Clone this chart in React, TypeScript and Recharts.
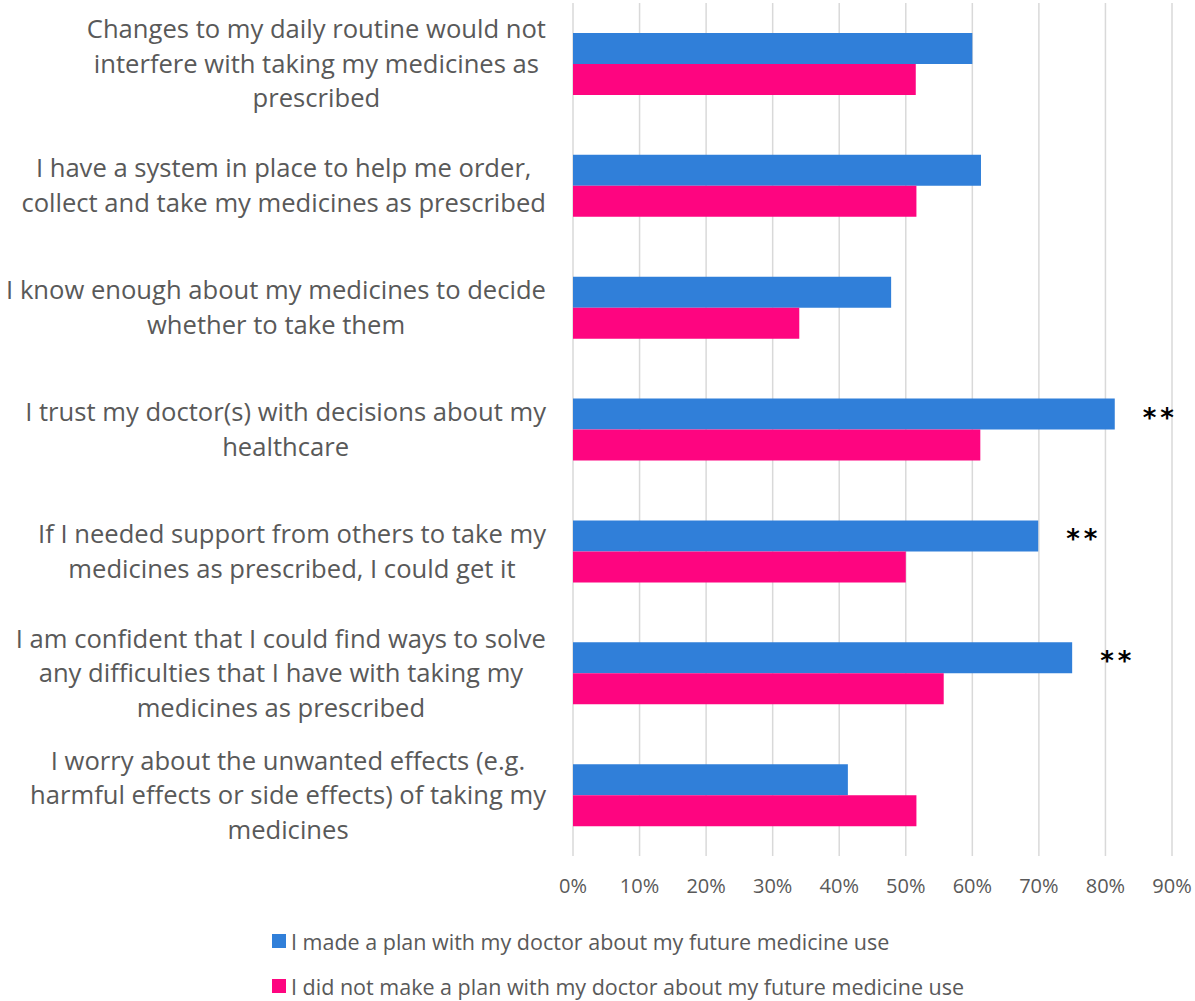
import React from "react";
import { BarChart, Bar, XAxis, YAxis, CartesianGrid, LabelList } from "recharts";

const categoryLines: string[][] = [
  ["Changes to my daily routine would not", "interfere with taking my medicines as", "prescribed"],
  ["I have a system in place to help me order,", "collect and take my medicines as prescribed"],
  ["I know enough about my medicines to decide", "whether to take them"],
  ["I trust my doctor(s) with decisions about my", "healthcare"],
  ["If I needed support from others to take my", "medicines as prescribed, I could get it"],
  ["I am confident that I could find ways to solve", "any difficulties that I have with taking my", "medicines as prescribed"],
  ["I worry about the unwanted effects (e.g.", "harmful effects or side effects) of taking my", "medicines"],
];
const categories: string[] = categoryLines.map((l) => l.join(" "));
const madePlan: number[] = [0.6, 0.613, 0.478, 0.814, 0.699, 0.75, 0.413];
const noPlan: number[] = [0.515, 0.516, 0.34, 0.612, 0.5, 0.557, 0.516];
const significance: string[] = ["", "", "", "**", "**", "**", ""];
const xTicks: number[] = [0, 0.1, 0.2, 0.3, 0.4, 0.5, 0.6, 0.7, 0.8, 0.9];
const seriesNames: string[] = [
  "I made a plan with my doctor about my future medicine use",
  "I did not make a plan with my doctor about my future medicine use",
];
const seriesColors: string[] = ["#307fd9", "#fe0580"];

const data = categories.map((name, i) => ({
  name,
  idx: i,
  made: madePlan[i],
  notMade: noPlan[i],
  sig: significance[i],
}));

const FONT = "'Open Sans', 'Noto Sans', sans-serif";
const TEXT_COLOR = "#595959";
const LABEL_SIZE = 25.6;
const LINE_H = 34.5;

let ctx: CanvasRenderingContext2D | null = null;
function measure(text: string): number {
  if (!ctx) {
    const c = document.createElement("canvas");
    ctx = c.getContext("2d");
  }
  if (!ctx) return text.length * LABEL_SIZE * 0.5;
  ctx.font = `${LABEL_SIZE}px 'Open Sans'`;
  return ctx.measureText(text).width;
}

const CategoryTick = (props: any) => {
  const { x, y, payload } = props;
  const lines = categoryLines[payload.index] || [String(payload.value)];
  const maxW = Math.max(...lines.map(measure));
  const cx = x - 27 - maxW / 2;
  const startY = y - ((lines.length - 1) * LINE_H) / 2;
  return (
    <text
      x={cx}
      y={startY}
      textAnchor="middle"
      fill={TEXT_COLOR}
      fontFamily={FONT}
      fontSize={LABEL_SIZE}
    >
      {lines.map((l, i) => (
        <tspan key={i} x={cx} y={startY + i * LINE_H} dy="0.35em">
          {l}
        </tspan>
      ))}
    </text>
  );
};

const renderSig = (props: any) => {
  const { x, y, width, height, value } = props;
  if (!value) return null;
  return (
    <text
      x={x + width + 28}
      y={y + height / 2 + 5}
      textAnchor="start"
      dominantBaseline="middle"
      fill="#000"
      fontFamily="'DejaVu Sans', sans-serif"
      fontWeight="bold"
      fontSize={26}
      letterSpacing={4}
    >
      {value}
    </text>
  );
};

export default function App() {
  return (
    <div style={{ position: "absolute", left: 0, top: 0, width: 1195, height: 1000, background: "#fff" }}>
      <BarChart
        layout="vertical"
        width={1195}
        height={1000}
        data={data}
        margin={{ top: 3, right: 23, bottom: 104, left: 0 }}
        barGap={0}
        barSize={31}
      >
        <CartesianGrid horizontal={false} stroke="#d9d9d9" strokeWidth={1.5} />
        <XAxis
          type="number"
          domain={[0, 0.9]}
          ticks={xTicks}
          tickFormatter={(v: number) => `${Math.round(v * 100)}%`}
          axisLine={false}
          tickLine={false}
          tickMargin={17}
          height={40}
          interval={0}
          tick={{ fill: TEXT_COLOR, fontSize: 20, fontFamily: FONT }}
        />
        <YAxis
          type="category"
          dataKey="name"
          width={573}
          axisLine={false}
          tickLine={false}
          tickSize={0}
          tickMargin={0}
          interval={0}
          tick={<CategoryTick />}
        />
        <Bar dataKey="made" fill={seriesColors[0]} isAnimationActive={false}>
          <LabelList dataKey="sig" content={renderSig} />
        </Bar>
        <Bar dataKey="notMade" fill={seriesColors[1]} isAnimationActive={false} />
      </BarChart>
      {seriesNames.map((n, i) => (
        <div
          key={n}
          style={{
            position: "absolute",
            left: 272,
            top: 929 + i * 45,
            height: 24,
            display: "flex",
            alignItems: "center",
            fontFamily: FONT,
            fontSize: 21.5,
            color: TEXT_COLOR,
            whiteSpace: "nowrap",
          }}
        >
          <span style={{ display: "inline-block", width: 14, height: 14, background: seriesColors[i], marginRight: 5 }} />
          {n}
        </div>
      ))}
    </div>
  );
}
